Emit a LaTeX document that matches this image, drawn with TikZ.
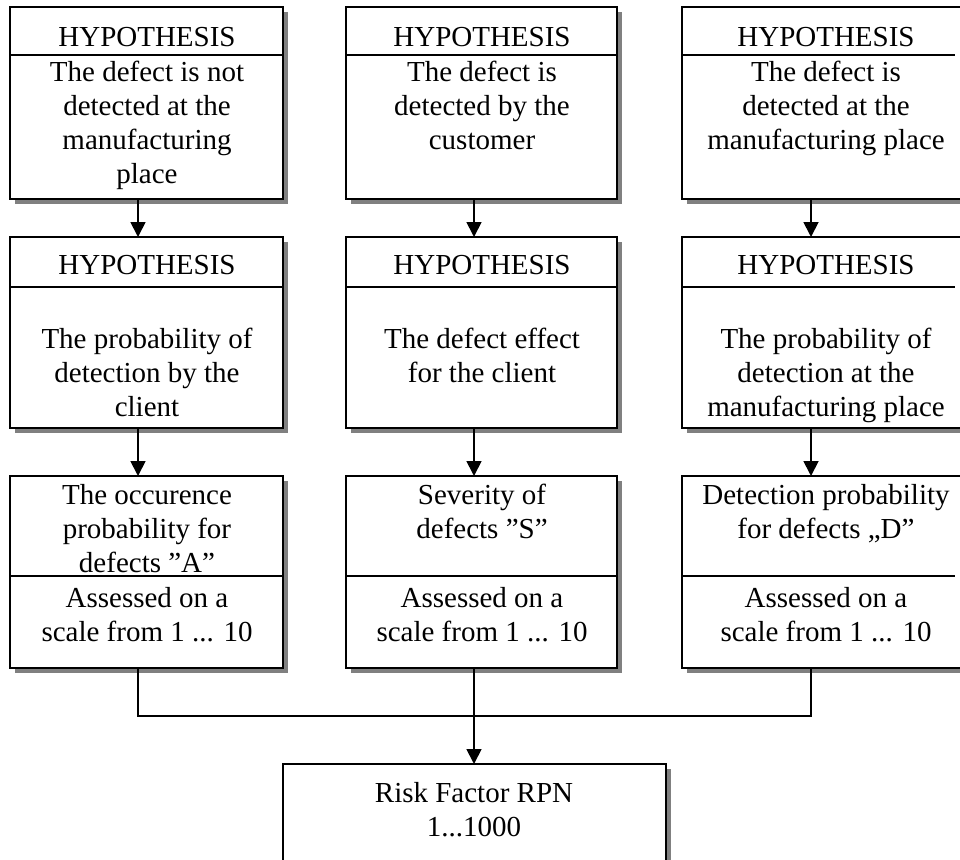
\documentclass[tikz,border=0pt]{standalone}
\usepackage{fontspec}
\setmainfont{Liberation Serif}
\usetikzlibrary{arrows.meta}
\newcommand\shbox[5]{%
  \fill[shadowc] (#2+5,#3+5) rectangle (#4+5,#5+5);
  \filldraw[box] (#2,#3) rectangle (#4,#5);
  \coordinate (#1nw) at (#2,#3);
  \coordinate (#1se) at (#4,#5);}
\begin{document}
\begin{tikzpicture}[x=1pt,y=-1pt,
  box/.style={draw=black,line width=1.8pt,fill=white},
  shadowc/.style={fill=black!50},
  divider/.style={line width=1.8pt},
  conn/.style={line width=1.8pt},
  arr/.style={conn,-{Triangle[width=15pt,length=15pt]}},
  txt/.style={align=center,inner sep=0pt,font=\fontsize{29}{34}\selectfont},
  hdr/.style={txt,anchor=center},
  body/.style={txt,anchor=north},
]
\useasboundingbox (0,0) rectangle (960,859);
\clip (0,0) rectangle (960,859);

% row 1
\shbox{L1}{10}{7}{283}{199}
\shbox{M1}{346}{7}{617}{199}
\shbox{R1}{682}{7}{970}{199}
\draw[divider] (10,55) -- (283,55);
\draw[divider] (346,55) -- (617,55);
\draw[divider] (682,55) -- (955,55);

% row 2
\shbox{L2}{10}{237}{283}{428}
\shbox{M2}{346}{237}{617}{428}
\shbox{R2}{682}{237}{970}{428}
\draw[divider] (10,287) -- (283,287);
\draw[divider] (346,287) -- (617,287);
\draw[divider] (682,287) -- (955,287);

% row 3
\shbox{L3}{10}{476}{283}{668}
\shbox{M3}{346}{476}{617}{668}
\shbox{R3}{682}{476}{970}{668}
\draw[divider] (10,576) -- (283,576);
\draw[divider] (346,576) -- (617,576);
\draw[divider] (682,576) -- (955,576);

% bottom
\shbox{B}{283}{764}{666}{900}

% texts row 1
\node[hdr] (L1h) at (147,37) {HYPOTHESIS};
\node[hdr] (M1h) at (482,37) {HYPOTHESIS};
\node[hdr] (R1h) at (826,37) {HYPOTHESIS};
\node[body] (L1b) at (147,57) {\strut The defect is not\\detected at the\\manufacturing\\place\strut};
\node[body] (M1b) at (482,57) {\strut The defect is\\detected by the\\customer\strut};
\node[body] (R1b) at (826,57) {\strut The defect is\\detected at the\\manufacturing place\strut};

% texts row 2
\node[hdr] (L2h) at (147,265) {HYPOTHESIS};
\node[hdr] (M2h) at (482,265) {HYPOTHESIS};
\node[hdr] (R2h) at (826,265) {HYPOTHESIS};
\node[body] (L2b) at (147,324) {\strut The probability of\\detection by the\\client\strut};
\node[body] (M2b) at (482,324) {\strut The defect effect\\for the client\strut};
\node[body] (R2b) at (826,324) {\strut The probability of\\detection at the\\manufacturing place\strut};

% texts row 3
\node[body] (L3a) at (147,480) {\strut The occurence\\probability for\\defects ”A”\strut};
\node[body] (M3a) at (482,480) {\strut Severity of\\defects ”S”\strut};
\node[body] (R3a) at (826,480) {\strut Detection probability\\for defects „D”\strut};
\node[body] (L3b) at (147,583) {\strut Assessed on a\\scale from 1 ... 10\strut};
\node[body] (M3b) at (482,583) {\strut Assessed on a\\scale from 1 ... 10\strut};
\node[body] (R3b) at (826,583) {\strut Assessed on a\\scale from 1 ... 10\strut};

% bottom text
\node[body] (Bt) at (474,778) {\strut Risk Factor RPN\\1...1000\strut};

% connector points
\coordinate (c1L) at (138,199); \coordinate (c2L) at (138,237);
\coordinate (c1M) at (474,199); \coordinate (c2M) at (474,237);
\coordinate (c1R) at (811,199); \coordinate (c2R) at (811,237);
\coordinate (c3L) at (138,428); \coordinate (c4L) at (138,476);
\coordinate (c3M) at (474,428); \coordinate (c4M) at (474,476);
\coordinate (c3R) at (811,428); \coordinate (c4R) at (811,476);
\coordinate (c5L) at (138,668); \coordinate (jL) at (138,716);
\coordinate (c5M) at (474,668); \coordinate (jM) at (474,716);
\coordinate (c5R) at (811,668); \coordinate (jR) at (811,716);
\coordinate (bt) at (474,764);

\draw[arr] (c1L) -- (c2L);
\draw[arr] (c1M) -- (c2M);
\draw[arr] (c1R) -- (c2R);
\draw[arr] (c3L) -- (c4L);
\draw[arr] (c3M) -- (c4M);
\draw[arr] (c3R) -- (c4R);
\draw[conn] (c5L) -- (jL) -- (jR) -- (c5R);
\draw[conn] (c5M) -- (jM);
\draw[arr] (jM) -- (bt);
\end{tikzpicture}
\end{document}
